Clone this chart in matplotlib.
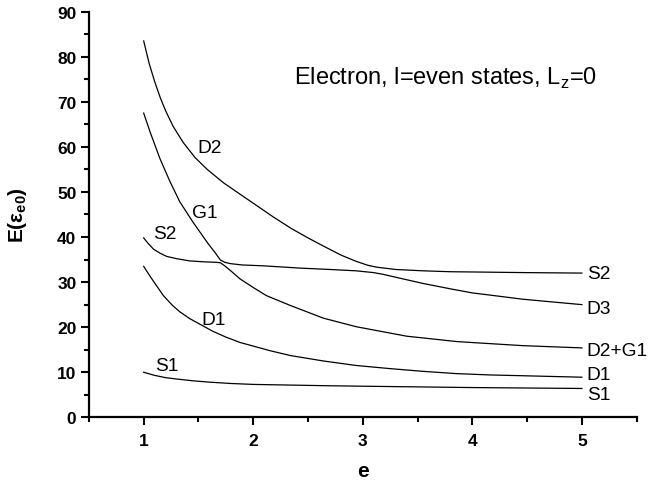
"""
Energy levels of electron l=even states (Lz=0) versus e.
"""

import matplotlib
matplotlib.use("Agg")
import matplotlib.pyplot as plt
from matplotlib.ticker import MultipleLocator

plt.rcParams["font.family"] = ["Liberation Sans", "DejaVu Sans"]

# curve data
e_top = [1.0, 1.05, 1.1, 1.15, 1.2, 1.27, 1.36, 1.47, 1.58, 1.73, 1.88, 2.03, 2.18,
         2.34, 2.5, 2.64, 2.8, 2.94, 3.05, 3.13, 3.3, 3.55, 3.8, 4.16, 4.5, 5.0]
E_top = [83.5, 78.5, 74.5, 71.0, 68.0, 64.5, 61.0, 57.6, 55.0, 52.0, 49.5, 47.0, 44.5,
         42.0, 39.8, 38.0, 36.0, 34.6, 33.7, 33.3, 32.8, 32.5, 32.3, 32.2, 32.1, 32.0]

e_g1 = [1.0, 1.06, 1.15, 1.24, 1.33, 1.45, 1.58, 1.65, 1.70, 1.74, 1.79, 1.9, 2.1,
        2.43, 2.7, 2.94, 3.1, 3.19, 3.35, 3.55, 3.8, 4.0, 4.2, 4.46, 5.0]
E_g1 = [67.5, 63.2, 57.3, 52.3, 47.8, 43.3, 38.8, 36.6, 34.9, 34.4, 34.1, 33.8, 33.6,
        33.1, 32.8, 32.5, 32.1, 31.7, 30.8, 29.7, 28.5, 27.6, 27.0, 26.2, 25.0]

e_s2 = [1.0, 1.04, 1.09, 1.15, 1.21, 1.3, 1.42, 1.55, 1.65, 1.70, 1.74, 1.79, 1.88,
        2.0, 2.12, 2.34, 2.64, 2.94, 3.4, 3.86, 4.46, 5.0]
E_s2 = [39.8, 38.6, 37.3, 36.4, 35.7, 35.2, 34.7, 34.5, 34.4, 34.3, 33.6, 32.6, 30.7,
        28.8, 27.0, 24.8, 22.0, 20.1, 18.0, 16.8, 15.9, 15.4]

e_d1 = [1.0, 1.05, 1.1, 1.18, 1.26, 1.33, 1.42, 1.51, 1.63, 1.75, 1.88, 2.0, 2.15,
        2.34, 2.64, 2.94, 3.25, 3.55, 3.85, 4.16, 4.5, 5.0]
E_d1 = [33.5, 31.6, 29.8, 27.0, 24.9, 23.4, 21.9, 20.7, 19.1, 17.8, 16.6, 15.8, 14.8,
        13.7, 12.5, 11.5, 10.8, 10.2, 9.7, 9.4, 9.2, 8.9]

e_s1 = [1.0, 1.1, 1.2, 1.3, 1.45, 1.6, 1.8, 2.0, 2.34, 2.7, 3.0, 3.5, 4.0, 4.5, 5.0]
E_s1 = [10.0, 9.3, 8.8, 8.5, 8.1, 7.8, 7.5, 7.3, 7.15, 7.0, 6.9, 6.75, 6.6, 6.5, 6.4]

left_labels = ["D2", "G1", "S2", "D1", "S1"]
left_label_e = [1.60, 1.56, 1.19, 1.64, 1.21]
left_label_E = [59.8, 45.5, 40.7, 21.7, 11.4]

right_labels = ["S2", "D3", "D2+G1", "D1", "S1"]
right_label_E = [32.0, 24.2, 14.8, 9.4, 5.1]

fig = plt.figure(figsize=(6.49, 4.85), dpi=100)
ax = fig.add_axes([0.137, 0.1375, 0.844, 0.8364])

for xs, ys in [(e_top, E_top), (e_g1, E_g1), (e_s2, E_s2), (e_d1, E_d1), (e_s1, E_s1)]:
    ax.plot(xs, ys, color="black", linewidth=0.9)

for text, x, y in zip(left_labels, left_label_e, left_label_E):
    ax.text(x, y, text, fontsize=13.8, ha="center", va="center")

for text, y in zip(right_labels, right_label_E):
    ax.text(5.045, y, text, fontsize=13.8, ha="left", va="center")

ax.text(2.37, 74.1, r"Electron, l=even states, L$_\mathregular{z}$=0",
        fontsize=17, ha="left", va="baseline")

ax.set_xlim(0.5, 5.5)
ax.set_ylim(0, 90)
ax.xaxis.set_major_locator(MultipleLocator(1))
ax.xaxis.set_minor_locator(MultipleLocator(0.5))
ax.yaxis.set_major_locator(MultipleLocator(10))
ax.yaxis.set_minor_locator(MultipleLocator(5))
ax.set_xticks([1, 2, 3, 4, 5])

for side in ["top", "right"]:
    ax.spines[side].set_visible(False)
for side in ["left", "bottom"]:
    ax.spines[side].set_linewidth(1.6)

ax.tick_params(which="major", direction="out", length=6, width=1.5, labelsize=12.5)
ax.tick_params(which="minor", direction="out", length=3.5, width=1.5)
ax.tick_params(axis="y", pad=3)
ax.tick_params(axis="x", pad=5)
for lab in ax.get_xticklabels() + ax.get_yticklabels():
    lab.set_fontweight("bold")

ax.set_xlabel("e", fontsize=15, fontweight="bold", labelpad=10)
ax.set_ylabel(r"E(ε$_\mathregular{e0}$)", fontsize=15, fontweight="bold", labelpad=20)

fig.savefig("out.png", dpi=100)
plt.close(fig)
